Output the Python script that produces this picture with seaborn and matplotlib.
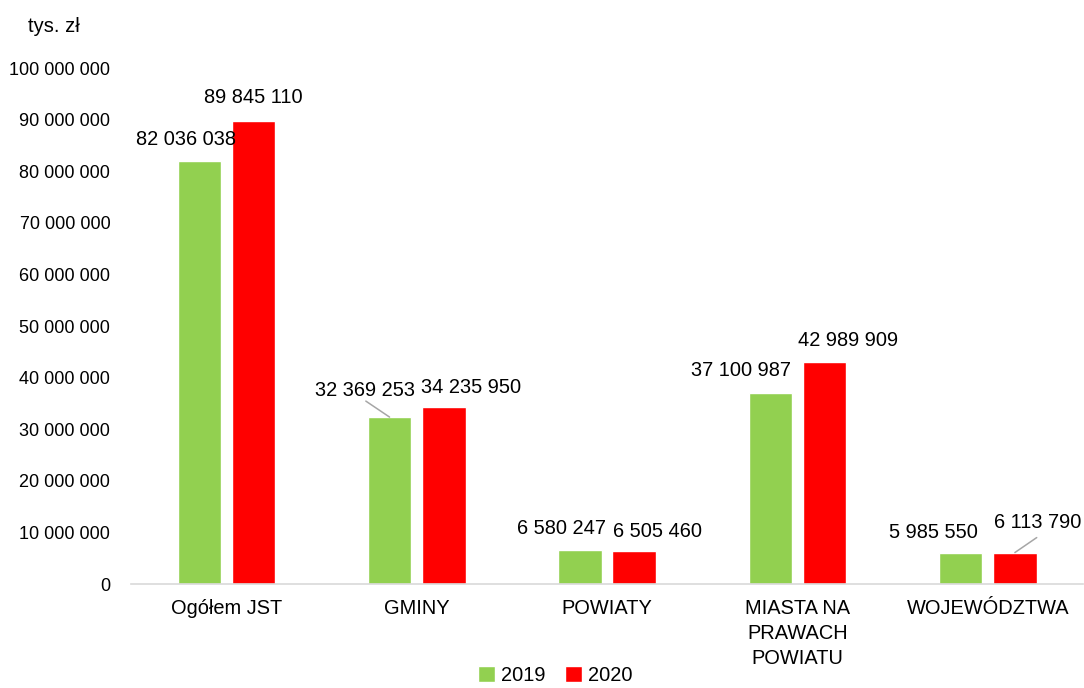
import numpy as np
import pandas as pd
import matplotlib.pyplot as plt
import seaborn as sns

# Data
categories = ['Ogółem JST', 'GMINY', 'POWIATY', 'MIASTA NA\nPRAWACH\nPOWIATU', 'WOJEWÓDZTWA']
years = ['2019', '2020']
values_2019 = [82036038, 32369253, 6580247, 37100987, 5985550]
values_2020 = [89845110, 34235950, 6505460, 42989909, 6113790]
y_ticks = [0, 10000000, 20000000, 30000000, 40000000, 50000000,
           60000000, 70000000, 80000000, 90000000, 100000000]

df = pd.DataFrame({
    'Kategoria': categories * 2,
    'Rok': [years[0]] * 5 + [years[1]] * 5,
    'Wartosc': values_2019 + values_2020,
})

# label offsets in pixels (dx, dy) relative to bar top centre, as in the reference
offsets_2019 = [(-13, 21), (-25, 27), (-18, 22), (-29, 22), (-27, 21)]
offsets_2020 = [(0, 23), (27, 20), (23, 19), (24, 22), (23, 30)]
leader_2019 = [False, True, False, False, False]
leader_2020 = [False, False, False, False, True]

sns.set_style('white')
plt.rcParams['font.family'] = ['Liberation Sans', 'DejaVu Sans']
plt.rcParams['text.color'] = 'black'
plt.rcParams['xtick.color'] = 'black'
plt.rcParams['ytick.color'] = 'black'

fig = plt.figure(figsize=(10.84, 6.88), dpi=100)
ax = fig.add_axes([0.121, 0.151, 0.878, 0.75])

sns.barplot(data=df, x='Kategoria', y='Wartosc', hue='Rok', hue_order=years,
            palette=['#92d050', '#ff0000'], width=0.57, gap=0.2,
            saturation=1, ax=ax, legend=True)

ax.set_ylim(0, 100000000)
ax.set_xlim(-0.5, 4.5)
ax.set_yticks(y_ticks)
ax.set_yticklabels(['{:,}'.format(v).replace(',', ' ') for v in y_ticks], fontsize=13)
ax.tick_params(axis='y', length=0, pad=15)
ax.tick_params(axis='x', length=0, pad=11, labelsize=14.4)
for lbl in ax.get_xticklabels():
    lbl.set_linespacing(1.38)
    lbl.set_verticalalignment('top')
ax.set_xlabel('')
ax.set_ylabel('')
for s in ['top', 'right', 'left']:
    ax.spines[s].set_visible(False)
ax.spines['bottom'].set_color('#d9d9d9')
ax.spines['bottom'].set_linewidth(1.2)

fig.text(0.05, 0.961, 'tys. zł', fontsize=14.5, ha='center', va='center')

def fmt(v):
    return '{:,}'.format(v).replace(',', ' ')

for cont, vals, offs, leads in [(ax.containers[0], values_2019, offsets_2019, leader_2019),
                                (ax.containers[1], values_2020, offsets_2020, leader_2020)]:
    for bar, v, (dx, dy), lead in zip(cont, vals, offs, leads):
        xc = bar.get_x() + bar.get_width() / 2
        ax.annotate(fmt(v), xy=(xc, v), xytext=(dx, dy), textcoords='offset pixels',
                    ha='center', va='center', fontsize=14.4)
        if lead:
            ax.annotate('', xy=(xc, v), xytext=(dx * 0.95, dy - 11 if dx < 0 else dy - 15),
                        textcoords='offset pixels',
                        arrowprops=dict(arrowstyle='-', color='#a6a6a6', lw=1.1,
                                        shrinkA=0, shrinkB=0))

ax.legend_.remove()
handles, labels = ax.get_legend_handles_labels()
fig.legend(handles, labels, loc='lower center', bbox_to_anchor=(0.512, -0.022), ncol=2,
           frameon=False, fontsize=14.4, handlelength=0.85, handleheight=0.85,
           handletextpad=0.3, columnspacing=1.0)

fig.savefig('out.png', dpi=100)
